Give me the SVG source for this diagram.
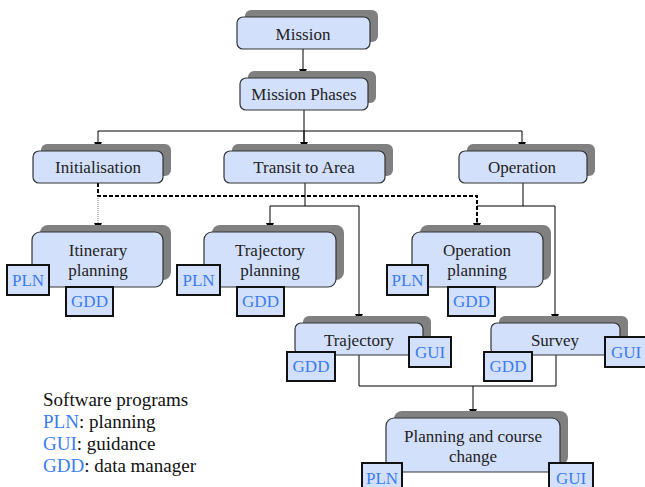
<svg xmlns="http://www.w3.org/2000/svg" width="645" height="487" viewBox="0 0 645 487">
<defs>
<marker id="arr" markerWidth="8" markerHeight="8" refX="8" refY="4" orient="auto" markerUnits="userSpaceOnUse" viewBox="0 0 8 8">
<path d="M0,0 L8,4 L0,8 Z" fill="#000"/>
</marker>
<style>
.sh{fill:#808080}
.bx{fill:#d3e0fc;stroke:#333;stroke-width:1.2}
.sb{fill:#d3e0fc;stroke:#111;stroke-width:2}
text{font-family:'Liberation Serif','Times New Roman',Times,serif;font-size:17px}
.t{fill:#222;text-anchor:middle}
.b{fill:#3a7cf0;text-anchor:middle}
.lg{fill:#111;font-size:19px}
.ln{fill:none;stroke:#000;stroke-width:1}
.dl{fill:none;stroke:#000;stroke-width:2;stroke-dasharray:4,2}
.dt{fill:none;stroke:#777;stroke-width:1;stroke-dasharray:1,1}
</style>
</defs>
<g id="connectors">
<path class="ln" d="M303,49 V77" marker-end="url(#arr)"/>
<path class="ln" d="M304,110 V150"/>
<path class="ln" d="M98,131 H522"/>
<path class="ln" d="M98,131 V150" marker-end="url(#arr)"/>
<path class="ln" d="M304,131 V150" marker-end="url(#arr)"/>
<path class="ln" d="M522,131 V150" marker-end="url(#arr)"/>
<path class="dl" d="M98,183 V196 H477 V222"/>
<path class="ln" d="M477,220 V231" marker-end="url(#arr)"/>
<path class="dt" d="M98,196 V224"/>
<path class="ln" d="M98,223 V231" marker-end="url(#arr)"/>
<path class="ln" d="M305,183 V206 H270 V231" marker-end="url(#arr)"/>
<path class="ln" d="M305,206 H359 V322" marker-end="url(#arr)"/>
<path class="ln" d="M523,183 V206 H477"/>
<path class="ln" d="M523,206 H555 V322" marker-end="url(#arr)"/>
<path class="ln" d="M359,355 V386 H556 V355"/>
<path class="ln" d="M473,386 V417" marker-end="url(#arr)"/>
</g>
<g id="mission">
<rect class="sh" x="245" y="10" width="133" height="32" rx="6"/>
<rect class="bx" x="237" y="17" width="133" height="32" rx="6"/>
<text class="t" x="303" y="40">Mission</text>
</g>
<g id="mission-phases">
<rect class="sh" x="248" y="71" width="128" height="32" rx="6"/>
<rect class="bx" x="240" y="78" width="128" height="32" rx="6"/>
<text class="t" x="304" y="100">Mission Phases</text>
</g>
<g id="initialisation">
<rect class="sh" x="41" y="144" width="130" height="32" rx="6"/>
<rect class="bx" x="33" y="151" width="130" height="32" rx="6"/>
<text class="t" x="98" y="173">Initialisation</text>
</g>
<g id="transit">
<rect class="sh" x="232" y="144" width="161" height="32" rx="6"/>
<rect class="bx" x="224" y="151" width="161" height="32" rx="6"/>
<text class="t" x="304" y="173">Transit to Area</text>
</g>
<g id="operation">
<rect class="sh" x="467" y="144" width="128" height="32" rx="6"/>
<rect class="bx" x="459" y="151" width="128" height="32" rx="6"/>
<text class="t" x="522" y="173">Operation</text>
</g>
<g id="itinerary-planning">
<rect class="sh" x="40" y="225" width="131" height="55" rx="8"/>
<rect class="bx" x="32" y="232" width="131" height="55" rx="8"/>
<text class="t" x="98" y="256">Itinerary</text>
<text class="t" x="98" y="276">planning</text>
<rect class="sb" x="7" y="265" width="42" height="30"/>
<text class="b" x="28" y="286">PLN</text>
<rect class="sb" x="66" y="287" width="47" height="29"/>
<text class="b" x="89.5" y="307">GDD</text>
</g>
<g id="trajectory-planning">
<rect class="sh" x="212" y="225" width="132" height="55" rx="8"/>
<rect class="bx" x="204" y="232" width="132" height="55" rx="8"/>
<text class="t" x="270" y="256">Trajectory</text>
<text class="t" x="270" y="276">planning</text>
<rect class="sb" x="177" y="265" width="43" height="30"/>
<text class="b" x="198.5" y="286">PLN</text>
<rect class="sb" x="237" y="287" width="47" height="29"/>
<text class="b" x="260.5" y="307">GDD</text>
</g>
<g id="operation-planning">
<rect class="sh" x="420" y="225" width="131" height="55" rx="8"/>
<rect class="bx" x="412" y="232" width="131" height="55" rx="8"/>
<text class="t" x="477" y="256">Operation</text>
<text class="t" x="477" y="276">planning</text>
<rect class="sb" x="387" y="265" width="41" height="30"/>
<text class="b" x="407.5" y="286">PLN</text>
<rect class="sb" x="448" y="287" width="47" height="29"/>
<text class="b" x="471.5" y="307">GDD</text>
</g>
<g id="trajectory">
<rect class="sh" x="303" y="316" width="128" height="32" rx="6"/>
<rect class="bx" x="295" y="323" width="128" height="32" rx="6"/>
<text class="t" x="359" y="346">Trajectory</text>
<rect class="sb" x="287" y="352" width="48" height="29"/>
<text class="b" x="311" y="372">GDD</text>
<rect class="sb" x="409" y="337" width="42" height="30"/>
<text class="b" x="430" y="358">GUI</text>
</g>
<g id="survey">
<rect class="sh" x="499" y="316" width="129" height="32" rx="6"/>
<rect class="bx" x="491" y="323" width="129" height="32" rx="6"/>
<text class="t" x="555" y="346">Survey</text>
<rect class="sb" x="484" y="352" width="48" height="29"/>
<text class="b" x="508" y="372">GDD</text>
<rect class="sb" x="605" y="337" width="42" height="30"/>
<text class="b" x="626" y="358">GUI</text>
</g>
<g id="planning-course-change">
<rect class="sh" x="394" y="411" width="174" height="54" rx="8"/>
<rect class="bx" x="386" y="418" width="174" height="54" rx="8"/>
<text class="t" x="473" y="442">Planning and course</text>
<text class="t" x="473" y="462">change</text>
<rect class="sb" x="362" y="463" width="40" height="30"/>
<text class="b" x="382" y="484">PLN</text>
<rect class="sb" x="549" y="463" width="44" height="30"/>
<text class="b" x="571" y="484">GUI</text>
</g>
<g id="legend">
<text class="lg" x="43" y="406">Software programs</text>
<text class="lg" x="43" y="428"><tspan fill="#3a7cf0">PLN</tspan>: planning</text>
<text class="lg" x="43" y="450"><tspan fill="#3a7cf0">GUI</tspan>: guidance</text>
<text class="lg" x="43" y="472"><tspan fill="#3a7cf0">GDD</tspan>: data manager</text>
</g>
</svg>
